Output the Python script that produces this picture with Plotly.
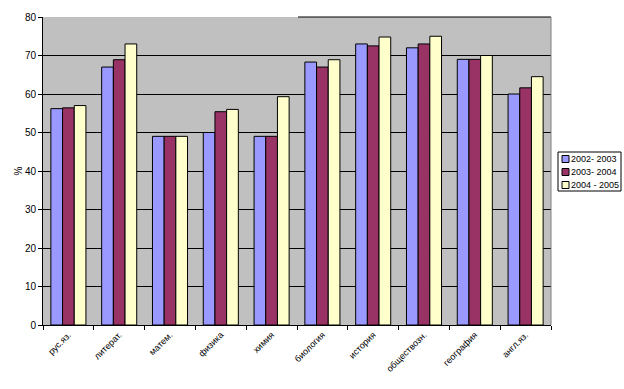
import plotly.graph_objects as go

categories = ["рус.яз.", "литерат.", "матем.", "физика", "химия", "биология",
              "история", "обществозн.", "география", "англ.яз."]
s2002 = [56.2, 67.0, 49.0, 50.0, 49.0, 68.3, 73.0, 72.0, 69.0, 60.0]
s2003 = [56.4, 68.9, 49.0, 55.4, 49.0, 67.0, 72.5, 73.0, 69.0, 61.6]
s2004 = [57.0, 73.0, 49.0, 56.0, 59.3, 68.9, 74.8, 75.0, 70.0, 64.5]
series_names = ["2002- 2003", "2003- 2004", "2004 - 2005"]
colors = ["#9999FF", "#993366", "#FFFFCC"]
y_ticks = [0, 10, 20, 30, 40, 50, 60, 70, 80]

W, H = 624, 389
L, R, T, B = 43, 73, 17, 64

fig = go.Figure()
for name, vals, col in zip(series_names, [s2002, s2003, s2004], colors):
    fig.add_trace(go.Bar(x=categories, y=vals, name=name,
                         marker=dict(color=col, line=dict(color="black", width=1))))

fig.update_layout(
    width=W, height=H,
    margin=dict(l=L, r=R, t=T, b=B, autoexpand=False),
    paper_bgcolor="white", plot_bgcolor="#C0C0C0",
    barmode="group", bargap=0.31, bargroupgap=0,
    font=dict(family="Arial, Liberation Sans", size=9, color="black"),
    showlegend=False,
)
fig.update_xaxes(type="category", tickangle=-45, tickson="boundaries",
                 ticks="outside", ticklen=4, tickcolor="black",
                 showline=True, linecolor="black", linewidth=1,
                 showgrid=False, tickfont=dict(size=9))
fig.update_yaxes(range=[0, 80], tickvals=y_ticks, ticks="outside", ticklen=4,
                 tickcolor="black", showline=True, linecolor="black", linewidth=1,
                 showgrid=True, gridcolor="black", gridwidth=1, zeroline=False,
                 title=dict(text="%", font=dict(size=10), standoff=0),
                 tickfont=dict(size=10))
# partial top border and right border like reference
fig.add_shape(type="line", xref="paper", yref="paper", x0=0.502, x1=1, y0=1, y1=1,
              line=dict(color="black", width=1))
fig.add_shape(type="line", xref="paper", yref="paper", x0=1, x1=1, y0=0, y1=1,
              line=dict(color="#808080", width=1))

# custom legend (pixel coordinates -> paper)
pw, ph = W - L - R, H - T - B
def px(x):
    return (x - L) / pw
def py(y):
    return (H - B - y) / ph

fig.add_shape(type="rect", xref="paper", yref="paper",
              x0=px(558), x1=px(621), y0=py(191), y1=py(152),
              line=dict(color="black", width=1), fillcolor="white")
for i, (name, col) in enumerate(zip(series_names, colors)):
    cy = 159 + 13 * i
    fig.add_shape(type="rect", xref="paper", yref="paper",
                  x0=px(562), x1=px(569), y0=py(cy + 3.5), y1=py(cy - 3.5),
                  line=dict(color="black", width=1), fillcolor=col)
    fig.add_annotation(xref="paper", yref="paper", x=px(569), y=py(cy),
                       xanchor="left", yanchor="middle", text=name,
                       showarrow=False, font=dict(size=9), align="left")

fig.write_html("out.html", config={"displayModeBar": False},
               post_script="document.body.style.margin='0';document.body.style.overflow='hidden';")
